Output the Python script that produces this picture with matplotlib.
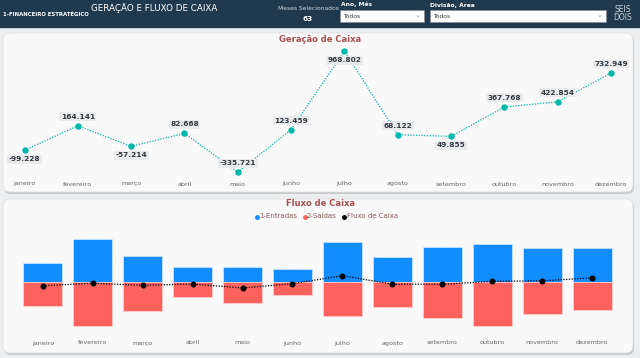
import numpy as np
import matplotlib.pyplot as plt
from matplotlib.patches import FancyBboxPatch, Rectangle

meses = ['janeiro', 'fevereiro', 'março', 'abril', 'maio', 'junho',
         'julho', 'agosto', 'setembro', 'outubro', 'novembro', 'dezembro']
geracao = [-99228, 164141, -57214, 82668, -335721, 123459,
           968802, 68122, 49855, 367768, 422854, 732949]
rotulos = ['-99.228', '164.141', '-57.214', '82.668', '-335.721', '123.459',
           '968.802', '68.122', '49.855', '367.768', '422.854', '732.949']
entradas = [2910000, 6400000, 3900000, 2250000, 2250000, 2010000,
            6000000, 3700000, 5200000, 5700000, 5050000, 5050000]
saidas = [-3600000, -6600000, -4400000, -2300000, -3200000, -2000000,
          -5100000, -3800000, -5400000, -6600000, -4800000, -4200000]

W, H = 640, 358
teal = '#01B8AA'
blue = '#118DFF'
red = '#FD625E'
titlec = '#a94f4f'
navy = '#1f3a4f'
gray = '#666666'

fig = plt.figure(figsize=(6.4, 3.58), dpi=100)
fig.patch.set_facecolor('#eceef0')
bg = fig.add_axes([0, 0, 1, 1])
bg.set_xlim(0, W)
bg.set_ylim(H, 0)
bg.axis('off')

# header
bg.add_patch(Rectangle((0, 0), W, 27, color=navy))
bg.text(3, 14, '1-FINANCEIRO ESTRATÉGICO', color='white', fontsize=3.9, fontweight='bold', va='center')
bg.text(91, 8, 'GERAÇÃO E FLUXO DE CAIXA', color='white', fontsize=6.3, va='center')
bg.text(308, 8, 'Meses Selecionados', color='#d0d6dc', fontsize=4.3, va='center', ha='center')
bg.text(308, 19, '63', color='white', fontsize=5.2, fontweight='bold', va='center', ha='center')
bg.text(341, 4.5, 'Ano, Mês', color='white', fontsize=4.3, fontweight='bold', va='center')
bg.text(430, 4.5, 'Divisão, Área', color='white', fontsize=4.3, fontweight='bold', va='center')
for x0, x1 in [(340, 424), (430, 606)]:
    bg.add_patch(Rectangle((x0, 10), x1 - x0, 12, facecolor='white', edgecolor='#888888', lw=0.4))
    bg.text(x0 + 3, 16, 'Todos', fontsize=4.3, color='#333333', va='center')
    bg.text(x1 - 7, 15, '⌄', fontsize=5, color='#888888', va='center', ha='center')
bg.text(623, 9.5, 'SEIS', color='#c9d2da', fontsize=5.5, va='center', ha='center')
bg.text(623, 17.5, 'DOIS', color='#c9d2da', fontsize=5.5, va='center', ha='center')

# panels
for y0, y1 in [(33, 192), (199, 353)]:
    bg.add_patch(FancyBboxPatch((4, y0 + 2), 630, y1 - y0, boxstyle='round,pad=0,rounding_size=7',
                                facecolor='#c8cacc', edgecolor='none'))
    bg.add_patch(FancyBboxPatch((3, y0), 630, y1 - y0, boxstyle='round,pad=0,rounding_size=7',
                                facecolor='#f9f9f9', edgecolor='#dddddd', lw=0.5))

bg.text(320, 39.5, 'Geração de Caixa', color=titlec, fontsize=6, fontweight='bold', ha='center', va='center')
bg.text(320, 204, 'Fluxo de Caixa', color=titlec, fontsize=6, fontweight='bold', ha='center', va='center')

# legend
lx = 257
for lab, c in [('1-Entradas', blue), ('2-Saídas', red), ('Fluxo de Caixa', 'black')]:
    bg.plot(lx, 216.5, 'o', color=c, ms=2.5)
    bg.text(lx + 2.5, 216.5, lab, color='#8a5a5a', fontsize=5, va='center')
    lx += 2.5 + len(lab) * 3.9 + 6

x = np.arange(len(meses))


def ax_box(px0, px1, py0, py1):
    return [px0 / W, 1 - py1 / H, (px1 - px0) / W, (py1 - py0) / H]


# top line chart
ax1 = fig.add_axes(ax_box(5, 633, 40, 180))
ax1.set_xlim(-0.366, 11.412)
ax1.set_ylim(-420000, 1089000)
ax1.axis('off')
ax1.plot(x, geracao, color=teal, ls=(0, (1, 1.2)), lw=0.9, marker='o', ms=3.6)
below = {0, 2, 6, 8}
for i, (v, s) in enumerate(zip(geracao, rotulos)):
    off = -6.5 if i in below else 6.5
    ax1.annotate(s, (i, v), xytext=(0, off), textcoords='offset points', ha='center', va='center',
                 fontsize=5.3, fontweight='bold', color='#333a40',
                 bbox=dict(boxstyle='square,pad=0.2', fc='#e9eaeb', ec='none'))
for i, m in enumerate(meses):
    bg.text(24.5 + 53.33 * i, 184, m, fontsize=4.6, color=gray, ha='center', va='center')

# bottom bar chart
ax2 = fig.add_axes(ax_box(5, 633, 225, 330))
ax2.set_xlim(-0.757, 11.82)
ax2.set_ylim(-7200000, 8550000)
ax2.axis('off')
ax2.bar(x, entradas, width=0.78, color=blue, edgecolor='#cfe6ff', lw=0.5)
ax2.bar(x, saidas, width=0.78, color=red, edgecolor='#ffd0cf', lw=0.5)
ax3 = ax2.twinx()
ax3.set_ylim(-4794000, 6342000)
ax3.axis('off')
ax3.plot(x, geracao, color='black', ls=(0, (1, 1.2)), lw=0.9, marker='o', ms=3.3)
for i, m in enumerate(meses):
    bg.text(42.8 + 49.93 * i, 343, m, fontsize=4.6, color=gray, ha='center', va='center')

fig.savefig('out.png', dpi=100, facecolor=fig.get_facecolor())
